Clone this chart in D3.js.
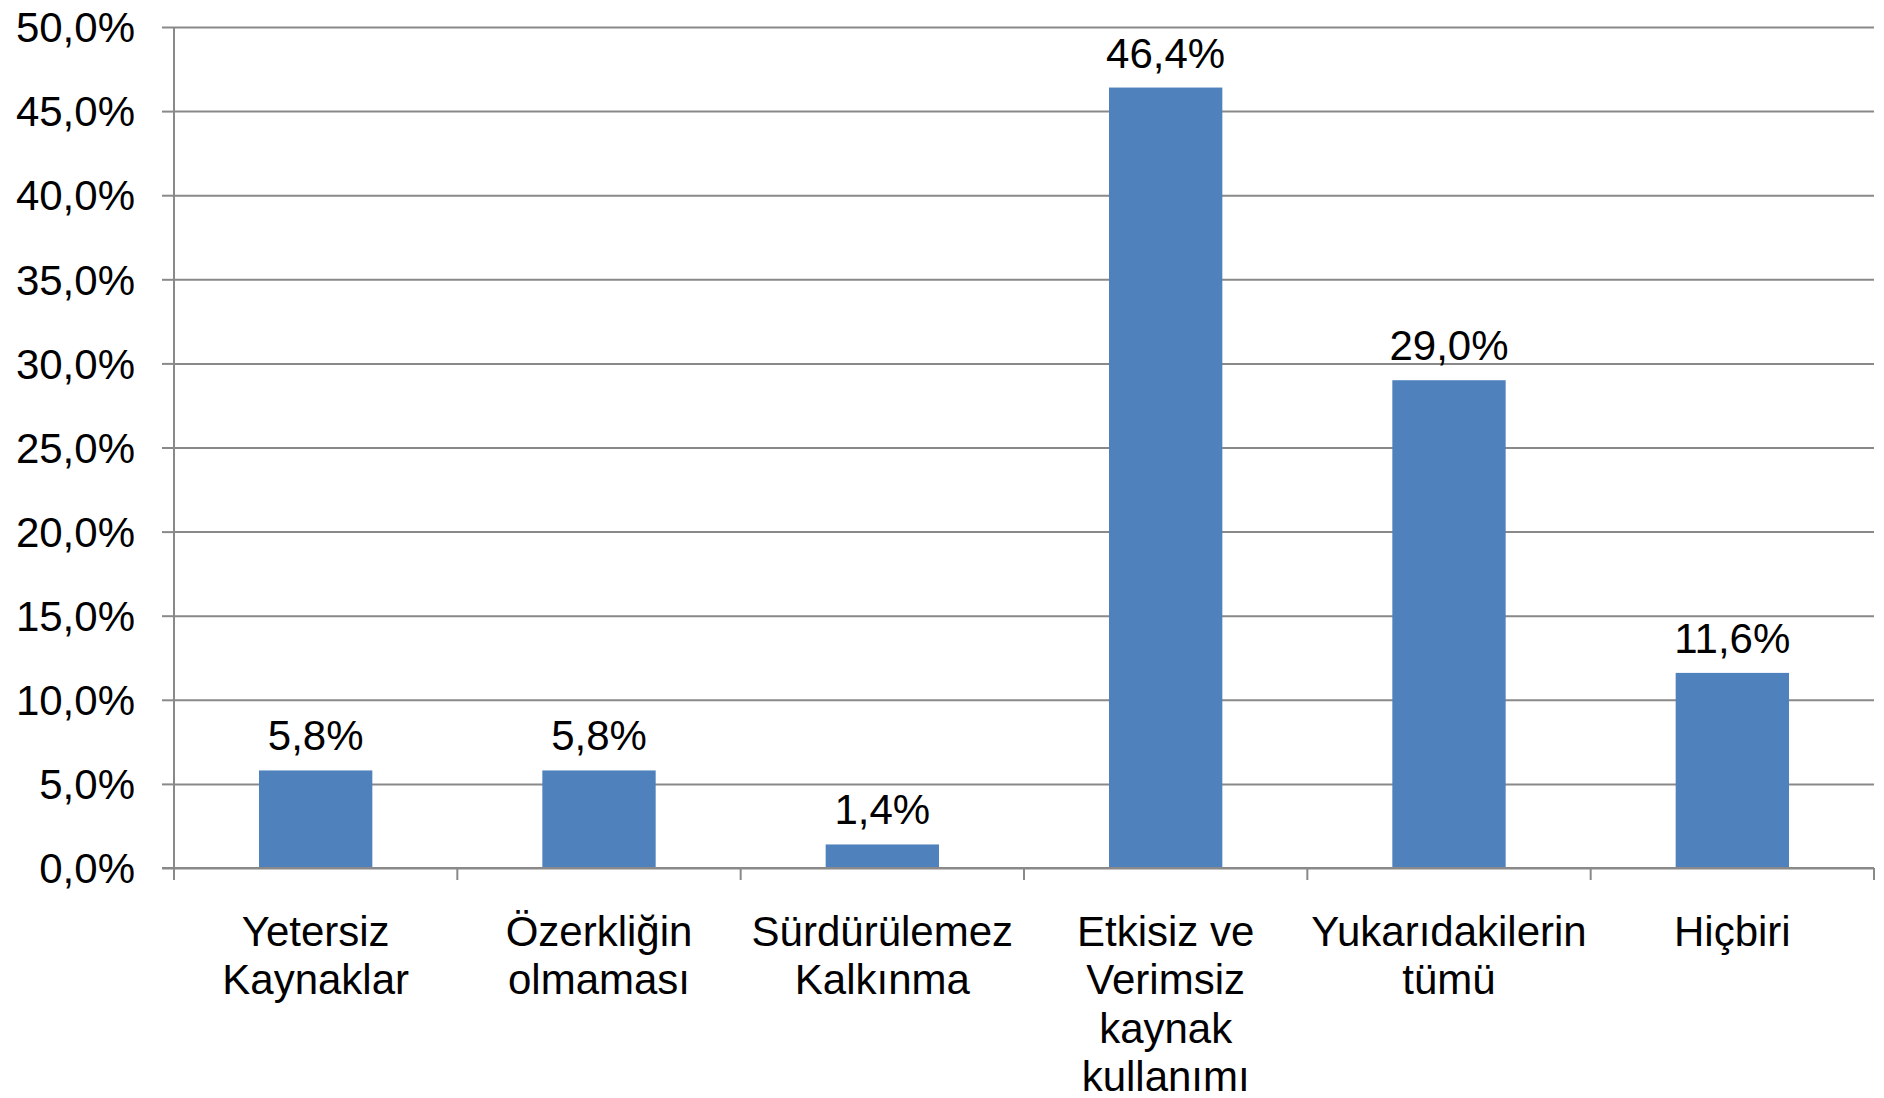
<!DOCTYPE html>
<html>
<head>
<meta charset="utf-8">
<script src="https://cdn.jsdelivr.net/npm/d3@7"></script>
<style>
  html, body { margin: 0; padding: 0; background: #ffffff; }
  svg { display: block; }
  text { font-family: "Liberation Sans", Arial, sans-serif; fill: #000; }
</style>
</head>
<body>
<svg id="chart" width="1884" height="1098"></svg>
<script>
// ---- data ----
const categories = [
  "Yetersiz Kaynaklar",
  "Özerkliğin olmaması",
  "Sürdürülemez Kalkınma",
  "Etkisiz ve Verimsiz kaynak kullanımı",
  "Yukarıdakilerin tümü",
  "Hiçbiri"
];
const labelLines = [
  ["Yetersiz", "Kaynaklar"],
  ["Özerkliğin", "olmaması"],
  ["Sürdürülemez", "Kalkınma"],
  ["Etkisiz ve", "Verimsiz", "kaynak", "kullanımı"],
  ["Yukarıdakilerin", "tümü"],
  ["Hiçbiri"]
];
const values = [5.8, 5.8, 1.4, 46.4, 29.0, 11.6];
const yTicks = [0, 5, 10, 15, 20, 25, 30, 35, 40, 45, 50];
const yTickLabels = ["0,0%", "5,0%", "10,0%", "15,0%", "20,0%", "25,0%", "30,0%", "35,0%", "40,0%", "45,0%", "50,0%"];

(function () {
// ---- layout ----
const plotLeft = 174, plotRight = 1874, plotTop = 27, plotBottom = 868;
const gridColor = "#898989";
const barColor = "#4F81BD";
const fontSize = 42;

const svg = d3.select("#chart");

const x = d3.scaleBand().domain(categories).range([plotLeft, plotRight])
  .paddingInner(0.6).paddingOuter(0.3);
const y = d3.scaleLinear().domain([0, 50]).range([plotBottom, plotTop]);

// gridlines
const grid = svg.append("g").attr("transform", `translate(${plotLeft},0)`)
  .call(d3.axisRight(y).tickValues(yTicks).tickSize(plotRight - plotLeft).tickFormat(""));
grid.select(".domain").remove();
grid.selectAll("line").attr("stroke", gridColor).attr("stroke-width", 2);

// y axis
const yAxis = svg.append("g").attr("transform", `translate(${plotLeft},0)`)
  .call(d3.axisLeft(y).tickValues(yTicks).tickSize(12).tickPadding(27)
    .tickFormat((d, i) => yTickLabels[i]));
yAxis.select(".domain").remove();
yAxis.selectAll("line").attr("stroke", gridColor).attr("stroke-width", 2);
yAxis.selectAll("text")
  .attr("font-family", "'Liberation Sans', Arial, sans-serif")
  .attr("font-size", fontSize).attr("fill", "#000").attr("dy", "0.35em");

// bars
svg.append("g").selectAll("rect").data(values).join("rect")
  .attr("x", (d, i) => x(categories[i]))
  .attr("width", x.bandwidth())
  .attr("y", d => y(d))
  .attr("height", d => y(0) - y(d))
  .attr("fill", barColor);

// x axis line + boundary ticks
const boundaries = d3.range(categories.length + 1).map(i => plotLeft + i * x.step());
svg.append("line")
  .attr("x1", plotLeft - 12).attr("x2", plotRight)
  .attr("y1", y(0)).attr("y2", y(0))
  .attr("stroke", gridColor).attr("stroke-width", 2);
svg.append("g").selectAll("line").data(boundaries).join("line")
  .attr("x1", d => d).attr("x2", d => d)
  .attr("y1", (d, i) => i === 0 ? y(50) : y(0))
  .attr("y2", y(0) + 12)
  .attr("stroke", gridColor).attr("stroke-width", 2);

// data labels
const fmt = v => v.toFixed(1).replace(".", ",") + "%";
svg.append("g").selectAll("text").data(values).join("text")
  .attr("x", (d, i) => x(categories[i]) + x.bandwidth() / 2)
  .attr("y", d => y(d) - 20)
  .attr("text-anchor", "middle")
  .attr("font-size", fontSize)
  .text(d => fmt(d));

// category labels
const catG = svg.append("g").selectAll("text").data(categories).join("text")
  .attr("text-anchor", "middle")
  .attr("font-size", fontSize)
  .attr("x", d => x(d) + x.bandwidth() / 2)
  .attr("y", y(0) + 78);
catG.each(function(d, i) {
  const t = d3.select(this);
  labelLines[i].forEach((line, j) => {
    t.append("tspan")
      .attr("x", x(d) + x.bandwidth() / 2)
      .attr("dy", j === 0 ? 0 : 48.3)
      .text(line);
  });
});
})();
</script>
</body>
</html>
